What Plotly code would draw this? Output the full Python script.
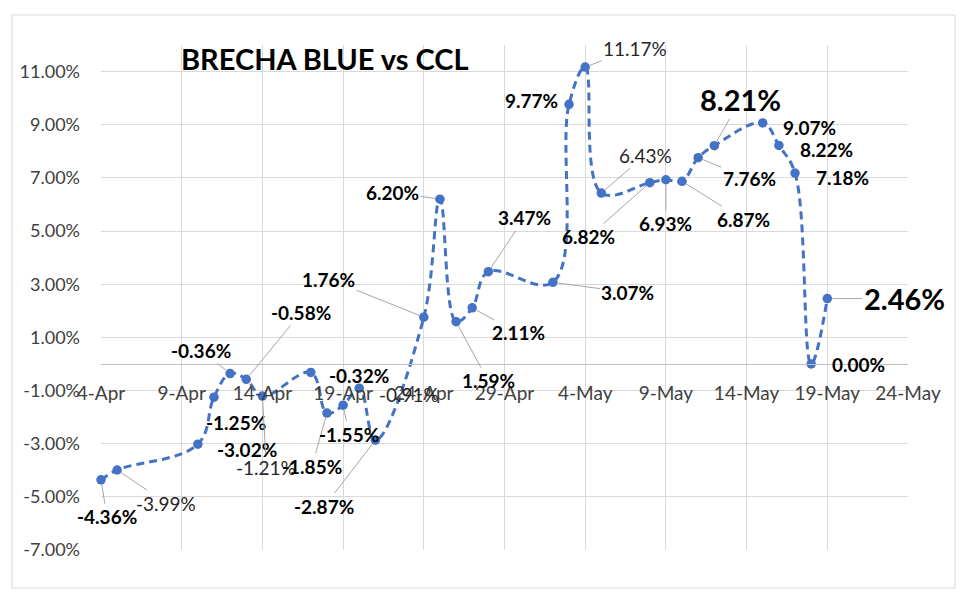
import plotly.graph_objects as go

# ---- data ----
dates = [
    "2023-04-04", "2023-04-05",
    "2023-04-10", "2023-04-11", "2023-04-12", "2023-04-13", "2023-04-14",
    "2023-04-17", "2023-04-18", "2023-04-19", "2023-04-20", "2023-04-21",
    "2023-04-24", "2023-04-25", "2023-04-26", "2023-04-27", "2023-04-28",
    "2023-05-02", "2023-05-03", "2023-05-04", "2023-05-05",
    "2023-05-08", "2023-05-09", "2023-05-10", "2023-05-11", "2023-05-12",
    "2023-05-15", "2023-05-16", "2023-05-17", "2023-05-18", "2023-05-19",
]
values = [
    -4.36, -3.99,
    -3.02, -1.25, -0.36, -0.58, -1.21,
    -0.32, -1.85, -1.55, -0.91, -2.87,
    1.76, 6.20, 1.59, 2.11, 3.47,
    3.07, 9.77, 11.17, 6.43,
    6.82, 6.93, 6.87, 7.76, 8.21,
    9.07, 8.22, 7.18, 0.00, 2.46,
]
x_tick_dates = ["2023-04-04", "2023-04-09", "2023-04-14", "2023-04-19", "2023-04-24",
                "2023-04-29", "2023-05-04", "2023-05-09", "2023-05-14", "2023-05-19",
                "2023-05-24"]
x_tick_labels = ["4-Apr", "9-Apr", "14-Apr", "19-Apr", "24-Apr", "29-Apr",
                 "4-May", "9-May", "14-May", "19-May", "24-May"]
y_tick_values = [-7, -5, -3, -1, 1, 3, 5, 7, 9, 11]
y_tick_labels = ["-7.00%", "-5.00%", "-3.00%", "-1.00%", "1.00%", "3.00%",
                 "5.00%", "7.00%", "9.00%", "11.00%"]
title_text = "BRECHA BLUE vs CCL"

# ---- label layout (pixel offsets from each point, leader line flag, style) ----
label_dx = [6, 49, 49, 22, -29, 55, 4, 48, -15, 6, 50, -51, -95, -47, 32, 46, 36,
            75, -38, 50, 44, -61, 0, 61, 51, 26, 47, 48, 47, 47, 77]
label_dy = [37, 33, 5, 25, -23, -67, 71, 3, 53, 29, 6, 66, -38, -7, 59, 25, -54,
            10, -4, -19, -38, 54, 44, 38, 21, -46, 5, 4, 4, 1, 0]
leader = [1, 1, 0, 0, 1, 1, 1, 0, 1, 1, 0, 1, 1, 1, 1, 1, 1,
          1, 0, 1, 1, 1, 1, 1, 1, 1, 0, 0, 0, 0, 1]
regular_weight = {1, 6, 10, 19, 20}
big_labels = {25, 30}

BLUE = "#4472C4"
FONT = "Lato"

fig = go.Figure()
fig.add_trace(go.Scatter(
    x=dates, y=values, mode="lines+markers",
    line=dict(color=BLUE, width=3, dash="8px,5px", shape="spline", smoothing=1.1),
    marker=dict(color=BLUE, size=9.5),
    cliponaxis=False,
    hoverinfo="skip", showlegend=False,
))

annotations = []
for i, (d, v) in enumerate(zip(dates, values)):
    txt = f"{v:.2f}%"
    size = 29 if i in big_labels else 19
    bold = i not in regular_weight
    annotations.append(dict(
        x=d, y=v, xref="x", yref="y",
        text=f"<b>{txt}</b>" if bold else txt,
        showarrow=True, ax=label_dx[i], ay=label_dy[i],
        arrowhead=0, arrowwidth=1, standoff=5,
        arrowcolor="#a6a6a6" if leader[i] else "rgba(0,0,0,0)",
        font=dict(family=FONT, size=size, color="#000000" if bold else "#262626"),
    ))

annotations.append(dict(
    x=0.097, y=1.0, xref="paper", yref="paper", xanchor="left", yanchor="bottom",
    yshift=-33, text=f"<b>{title_text}</b>", showarrow=False,
    font=dict(family=FONT, size=29, color="#000000"),
))

fig.update_layout(
    width=972, height=592,
    margin=dict(l=93, r=72, t=37, b=50),
    paper_bgcolor="white", plot_bgcolor="white",
    annotations=annotations,
    xaxis=dict(
        type="date", range=["2023-04-04", "2023-05-24"],
        tickvals=x_tick_dates, ticktext=x_tick_labels,
        showgrid=True, gridcolor="#d9d9d9", gridwidth=1,
        anchor="free", position=7 / 19,
        showline=True, linecolor="#bfbfbf", linewidth=1,
        ticks="", ticklabelstandoff=12,
        tickfont=dict(family=FONT, size=19, color="#404040"),
        zeroline=False,
    ),
    yaxis=dict(
        range=[-7, 12], tickvals=y_tick_values, ticktext=y_tick_labels,
        showgrid=True, gridcolor="#d9d9d9", gridwidth=1,
        zeroline=False, showline=False, ticks="",
        ticklabelstandoff=20,
        tickfont=dict(family=FONT, size=18, color="#404040"),
    ),
    shapes=[dict(type="rect", xref="paper", yref="paper",
                 x0=-0.1103, x1=1.0582, y0=-0.0752, y1=1.0594,
                 line=dict(color="#d9d9d9", width=1), layer="below")],
)

fig.write_html("out.html")
